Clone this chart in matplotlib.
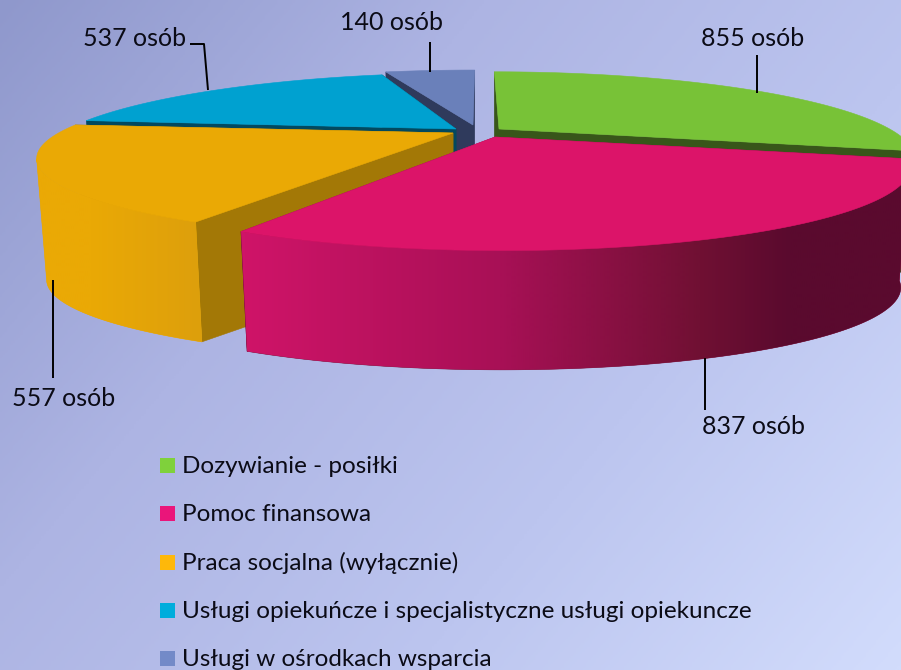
import numpy as np
import matplotlib
matplotlib.use("Agg")
import matplotlib.pyplot as plt
from matplotlib.colors import LinearSegmentedColormap, to_rgb
from matplotlib.patches import Polygon, Rectangle

categories = ["Dozywianie - posiłki", "Pomoc finansowa", "Praca socjalna (wyłącznie)",
              "Usługi opiekuńcze i specjalistyczne usługi opiekuncze", "Usługi w ośrodkach wsparcia"]
values = [855, 837, 557, 537, 140]
unit = "osób"

plt.rcParams['font.family'] = ['Lato', 'DejaVu Sans']
W, H = 901, 670
fig = plt.figure(figsize=(W / 100, H / 100), dpi=100)
ax = fig.add_axes([0, 0, 1, 1])
ax.set_xlim(0, W)
ax.set_ylim(H, 0)
ax.autoscale(False)
ax.axis("off")

# background gradient
yy, xx = np.mgrid[0:H:4j * 67, 0:W:4j * 90]
t = 0.62 * xx / W + 0.38 * yy / H
cmap = LinearSegmentedColormap.from_list("bg", ["#8f98cc", "#adb4e3", "#bcc5ef", "#d2dcfc"])
ax.imshow(t, extent=(0, W, H, 0), cmap=cmap, aspect="auto", zorder=0, vmin=0, vmax=1)

# projection of the pie disc
RX, RY, P, DEPTH, SHRINK = 383.0, 74.6, 0.33, 122.0, 0.976
fr = np.array(values) / sum(values) * 360.0
starts = np.concatenate([[0], np.cumsum(fr)[:-1]])

layout = {
    0: dict(apex=(499, 129), kx=1.02, ky=1.02, xv=480, top="#78C237", wall="#38561a"),
    1: dict(apex=(495, 137), kx=1.02, ky=1.02, xv=480, top="#DC1469", wall="#8a0f48"),
    2: dict(apex=(453, 133), kx=1.03, ky=0.96, xv=440, top="#EAA905", wall="#A37806"),
    3: dict(apex=(456, 129), kx=1.015, ky=1.00, xv=512, top="#00A1D0", wall="#02495f"),
    4: dict(apex=(473, 125), kx=1.03, ky=0.98, xv=480, top="#6A80BA", wall="#2f3a5c"),
}


def proj(theta, i, low=False):
    a = np.radians(theta)
    u, v = np.sin(a), np.cos(a)
    w = 1 + P * v
    c = layout[i]
    ax0, ay0 = c["apex"]
    X = c["kx"] * RX * u / w + (ax0 - c["xv"]) * (1 / w - 1)
    Y = -c["ky"] * RY * v / w
    if low:
        return np.c_[ax0 + SHRINK * X, ay0 + SHRINK * Y + DEPTH]
    return np.c_[ax0 + X, ay0 + Y]


def apex(i, low=False):
    ax0, ay0 = layout[i]["apex"]
    return np.array([[ax0, ay0 + (DEPTH if low else 0)]])


def poly(pts, color, z):
    p = Polygon(pts, closed=True, facecolor=color, edgecolor=color, lw=0.4, zorder=z)
    ax.add_patch(p)
    return p


def mix(c1, c2, f):
    c1, c2 = np.array(to_rgb(c1)), np.array(to_rgb(c2))
    return c1 + (c2 - c1) * f


def draw(i, z, outer=None):
    t0, t1 = starts[i], starts[i] + fr[i]
    th = np.linspace(t0, t1, 200)
    c = layout[i]
    top, low = proj(th, i), proj(th, i, True)
    for end in (0, -1):
        poly(np.vstack([apex(i), top[end:][:1], low[end:][:1], apex(i, True)]), c["wall"], z)
    if outer is not None:
        m = int(np.argmin(top[:, 0])) + 1  # the visible part ends at the silhouette
        shape = poly(np.vstack([top[:m], low[:m][::-1]]), outer(float(top[:m, 0].mean())), z + 0.1)
        xs = np.arange(0, W + 300, 2.0)
        grad = np.array([outer(x) for x in xs])[None, :, :]
        im = ax.imshow(grad, extent=(xs[0], xs[-1], H, 0), aspect="auto", zorder=z + 0.15,
                       interpolation="bilinear")
        im.set_clip_path(shape)
    poly(np.vstack([apex(i), top]), c["top"], z + 0.2)


def pink_wall(x):
    stops = [245, 500, 700, 790]
    cols = np.array([to_rgb(c) for c in ("#CF1468", "#A81056", "#701033", "#5A0A2E")])
    return np.array([np.interp(x, stops, cols[:, k]) for k in range(3)])


def yellow_wall(x):
    return mix("#DD9F0C", "#EAA905", np.clip((200 - x) / 110, 0, 1))


draw(4, 1)
draw(0, 2)
draw(3, 3)
draw(2, 4, yellow_wall)
draw(1, 5, pink_wall)

# leader lines and data labels
txt = "#0b0b16"
leaders = [([757, 757], [55, 93]), ([705, 705], [358, 410]), ([53, 53], [280, 378]),
           ([190, 204, 208], [44, 44, 90]), ([430, 430], [42, 72])]
label_pos = [(753, 39), (753, 427), (64, 398), (134.5, 38), (391, 22)]
for (lx, ly), (px, py), val in zip(leaders, label_pos, values):
    ax.plot(lx, ly, color="black", lw=1.4, zorder=8, solid_capstyle="butt")
    ax.text(px, py, f"{val} {unit}", fontsize=18.0, color=txt,
            ha="center", va="center", zorder=9)

# legend
legend_cols = ["#7FD13B", "#EA157A", "#FEB80A", "#00ADDC", "#738AC8"]
for i, (name, col) in enumerate(zip(categories, legend_cols)):
    y = 465.5 + i * 48.25
    ax.add_patch(Rectangle((160, y - 7.5), 15, 15, facecolor=col, edgecolor="none", zorder=8))
    ax.text(182, y + 7.5, name, fontsize=17.5, color=txt, ha="left", va="baseline", zorder=9)

fig.savefig("out.png", dpi=100)
